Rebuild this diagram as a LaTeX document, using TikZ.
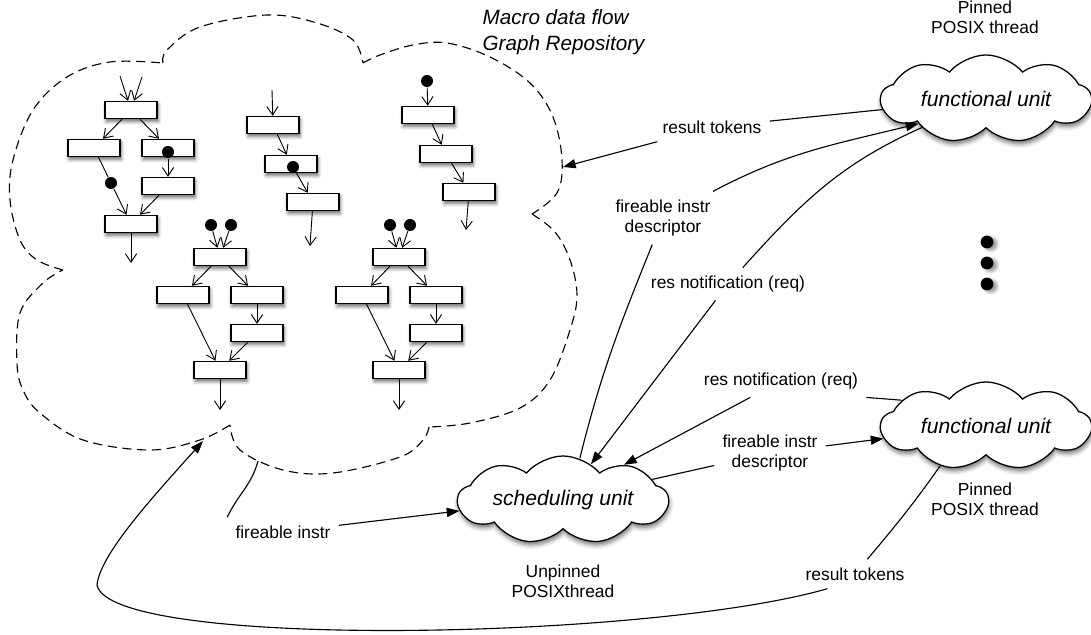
\documentclass[tikz,border=0pt]{standalone}
\usepackage{fontspec}
\setmainfont{Liberation Sans}
\usetikzlibrary{arrows.meta,calc,shapes.symbols,shadows.blur}
\begin{document}
\begin{tikzpicture}[x=0.025cm,y=0.025cm,thick,>={Triangle[length=9pt,width=6.5pt]},
 blk/.style={draw,fill=white,line width=0.9pt,minimum width=1.3cm,minimum height=0.43cm,inner sep=0pt,
  blur shadow={shadow xshift=0.8pt,shadow yshift=-2pt,shadow blur radius=2.5pt,shadow opacity=60}},
 tok/.style={circle,fill=black,inner sep=0pt,minimum size=0.3cm},
 garr/.style={line width=0.65pt,-{Straight Barb[length=6pt,width=8pt]}},
 unit/.style={cloud,cloud puffs=9,cloud puff arc=100,cloud ignores aspect,draw,fill=white,line width=0.9pt,
  minimum width=5.25cm,minimum height=2.2cm,font=\fontsize{15}{18}\selectfont\itshape,
  blur shadow={shadow xshift=0.6pt,shadow yshift=-2.5pt,shadow blur radius=3pt,shadow opacity=55}},
 lbl/.style={align=center,inner sep=5.5pt,font=\fontsize{12.4}{14.5}\selectfont}]
\useasboundingbox (0,0) rectangle (1091,-635);
\draw[dash pattern=on 6.5pt off 4pt]
 plot[smooth,tension=0.6] coordinates{(63,-270) (37,-260) (20,-240) (10,-200) (13,-160) (33,-110) (67,-77) (110,-62) (163,-63)}
 plot[smooth,tension=0.6] coordinates{(163,-63) (167,-50) (200,-27) (267,-15) (317,-23) (353,-40) (363,-63)}
 plot[smooth,tension=0.6] coordinates{(363,-63) (380,-55) (413,-45) (447,-43) (490,-57) (530,-83) (553,-117) (562,-160) (557,-193) (532,-214)}
 plot[smooth,tension=0.6] coordinates{(532,-214) (555,-232) (570,-260) (577,-295) (570,-330) (550,-380) (520,-408) (470,-423) (429,-427)}
 plot[smooth,tension=0.6] coordinates{(429,-427) (423,-440) (400,-457) (333,-473) (283,-470) (240,-450) (230,-425)}
 plot[smooth,tension=0.6] coordinates{(230,-425) (200,-440) (150,-450) (83,-440) (40,-413) (23,-390) (17,-363) (20,-313) (43,-283) (63,-270)};
\coordinate (R1) at (563,-167);
\coordinate (R2) at (258,-461);
\coordinate (R3) at (203,-441);
\foreach \n/\x/\y in {a1/131/110,b1/94/148,b2/168/148,c1/168/186,d1/131/224,e1/273/125,e2/291/164,e3/313/202,f1/428/115,f2/446/154,f3/469/192}
 \node[blk] (\n) at (\x,-\y) {};
\foreach \n/\x/\y in {t1/168/152,t2/111/183,t3/293/167,t4/427/81}
 \node[tok] (\n) at (\x,-\y) {};
\foreach \n/\x/\y in {i1/120/76,i2/142/77,i3/272/90,o1/131/263,o2/310/246,o3/466/230}
 \coordinate (\n) at (\x,-\y);
\draw[line width=0.65pt] (b1)--(t2);
\foreach \s/\t in {i1/a1,i2/a1,a1/b1,a1/b2,t1/c1,t2/d1,c1/d1,d1/o1,i3/e1,e1/e2,t3/e3,e3/o2,t4/f1,f1/f2,f2/f3,f3/o3}
 \draw[garr] (\s)--(\t);
\foreach \dx/\g in {0/g,179/h}
{
\foreach \n/\x/\y in {1/220/257,2/183/295,3/257/295,4/257/333,5/220/370}
 \node[blk] (\g\n) at (\x+\dx,-\y) {};
\node[tok] (\g d1) at (211+\dx,-225) {};
\node[tok] (\g d2) at (231+\dx,-225) {};
\coordinate (\g out) at (220+\dx,-410);
\foreach \s/\t in {d1/1,d2/1,1/2,1/3,3/4,2/5,4/5,5/out}
 \draw[garr] (\g\s)--(\g\t);
}
\node[lbl,font=\fontsize{14.7}{18.4}\selectfont\itshape,align=left,anchor=west,inner sep=0pt] (ttl) at (482,-32) {Macro data flow\\Graph Repository};
\node[unit] (fu1) at (986,-99) {functional unit};
\node[unit] (fu2) at (986,-426) {functional unit};
\node[unit] (su) at (563,-500) {scheduling unit};
\node[lbl] (p1) at (985,-17) {Pinned\\POSIX thread};
\node[lbl] (p2) at (985,-499) {Pinned\\POSIX thread};
\node[lbl] (up) at (563,-581) {Unpinned\\POSIXthread};
\node[lbl] (rt1) at (712,-127) {result tokens};
\node[lbl] (fd1) at (663,-218) {fireable instr\\descriptor};
\node[lbl] (rn1) at (728,-284) {res notification (req)};
\node[lbl] (rn2) at (781,-381) {res notification (req)};
\node[lbl] (fd2) at (770,-453) {fireable instr\\descriptor};
\node[lbl] (rt2) at (855,-574) {result tokens};
\node[lbl] (fi) at (283,-532) {fireable instr};
\foreach \y in {242,263,284}
 \node[tok,minimum size=0.32cm,blur shadow={shadow yshift=-1.5pt,shadow opacity=40}] (dot\y) at (987,-\y) {};
\draw (fu1)--(rt1);
\draw[->] (rt1)--(R1);
\draw (su.68) to[out=76,in=-112] (fd1);
\draw[->] (fd1) to[out=28,in=194] (fu1.200);
\draw (fu1) to[out=204,in=48] (rn1);
\draw[->] (rn1)--(su.52);
\draw (fu2.163)--(rn2.south east);
\draw[->] (rn2)--(su.30);
\draw (su.13)--(fd2);
\draw[->] (fd2)--(fu2.187);
\draw (fu2.221) to[out=235,in=50] (rt2);
\draw[->] (rt2.208) .. controls (650,-640) and (110,-650) .. (97,-585) .. controls (100,-555) and (150,-500) .. (R3);
\draw (R2) to[out=-105,in=65] (fi.north west);
\draw[->] (fi)--(su.186);
\end{tikzpicture}
\end{document}
